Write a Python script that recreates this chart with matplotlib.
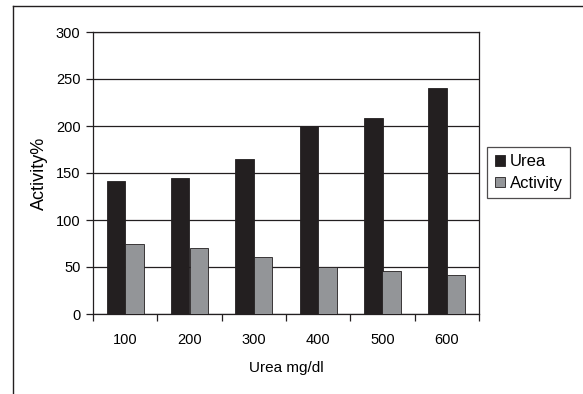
import matplotlib.pyplot as plt
import numpy as np
from matplotlib.lines import Line2D

urea_levels = ["100", "200", "300", "400", "500", "600"]
urea_values = [142, 145, 165, 200, 209, 240]
activity_values = [75, 70, 61, 50, 46, 41]

plt.rcParams['font.family'] = ['Liberation Sans', 'DejaVu Sans']

fig = plt.figure(figsize=(5.83, 3.94), dpi=100)
ax = fig.add_axes([93 / 583, 80 / 394, 386 / 583, 282 / 394])

x = np.arange(len(urea_levels))
w = 0.29
ax.bar(x - w / 2, urea_values, w, color="#231f20", edgecolor="#231f20", linewidth=0.6, label="Urea", zorder=3)
ax.bar(x + w / 2, activity_values, w, color="#939598", edgecolor="#231f20", linewidth=0.6, label="Activity", zorder=3)

ax.set_xlim(-0.5, len(urea_levels) - 0.5)
ax.set_ylim(0, 300)
ax.set_yticks(range(0, 301, 50))
ax.yaxis.grid(True, color="#231f20", linewidth=0.9)
ax.set_axisbelow(True)

ax.set_xticks(x)
ax.set_xticklabels(urea_levels, fontsize=10.5)
ax.tick_params(axis="x", length=0, pad=14)
ax.set_xticks(np.arange(-0.5, len(urea_levels)), minor=True)
ax.tick_params(axis="x", which="minor", length=5, width=0.9, direction="out", color="#231f20")
ax.tick_params(axis="y", length=5, width=0.9, labelsize=10.5, color="#231f20", pad=4)

for s in ax.spines.values():
    s.set_color("#231f20")
    s.set_linewidth(0.9)

ax.set_xlabel("Urea mg/dl", fontsize=11, labelpad=10)
ax.set_ylabel("Activity%", fontsize=13, labelpad=6)

leg = ax.legend(loc="center left", fontsize=12, frameon=True, borderaxespad=0,
                fancybox=False, edgecolor="#231f20", handlelength=0.6, handleheight=0.6,
                handletextpad=0.3, borderpad=0.45, labelspacing=0.4)
leg.set_bbox_to_anchor((1.021, 0.502), transform=ax.transAxes)
leg.get_frame().set_linewidth(0.9)

# outer chart frame
fig.add_artist(Line2D([13 / 583, 13 / 583], [0, 1 - 6 / 394], color="#231f20", linewidth=1.0, transform=fig.transFigure))
fig.add_artist(Line2D([13 / 583, 1], [1 - 6 / 394, 1 - 6 / 394], color="#231f20", linewidth=1.0, transform=fig.transFigure))

fig.savefig("out.png", dpi=100)
